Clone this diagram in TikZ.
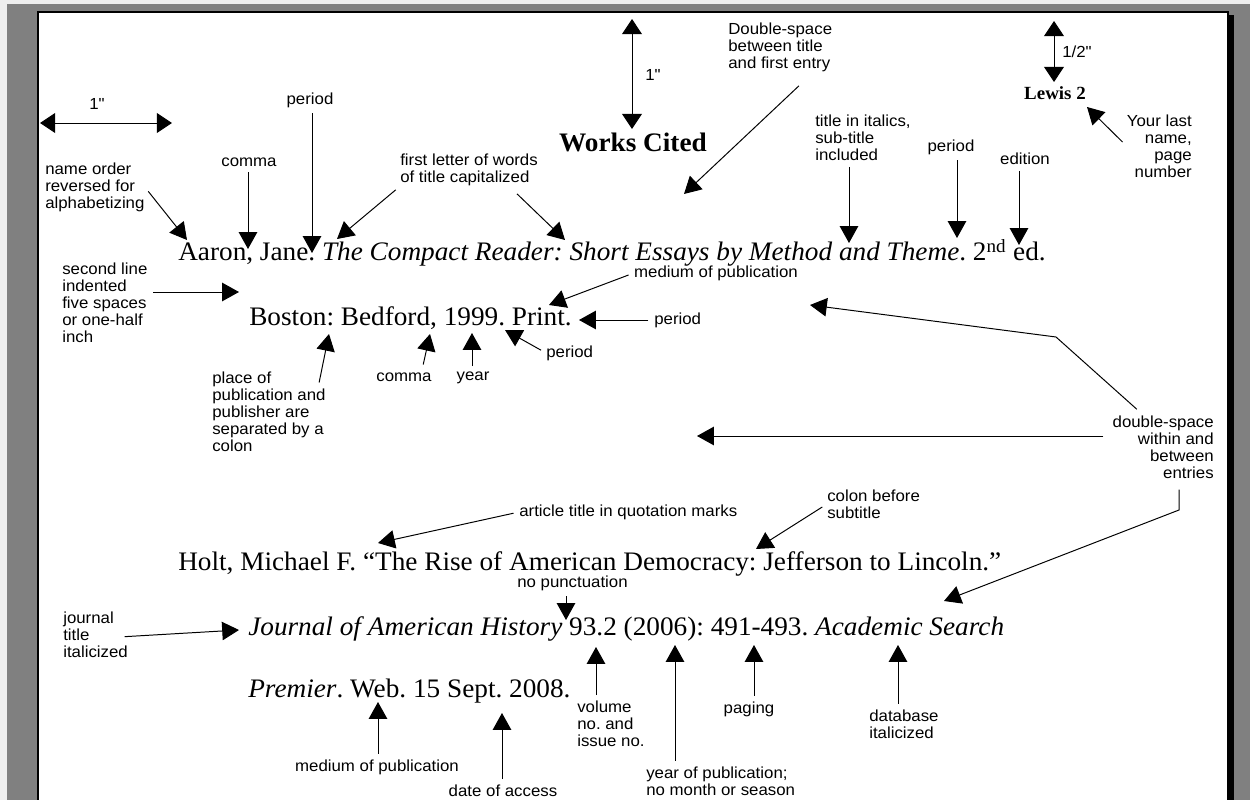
\documentclass[tikz,border=0pt]{standalone}
\usepackage{fontspec}
\setmainfont{Liberation Serif}[FakeStretch=1.02]
\newfontfamily\notefont{Liberation Sans}[Ligatures=TeXOff, FakeStretch=1.05]
\usetikzlibrary{arrows.meta}

\definecolor{panel}{HTML}{808080}
\definecolor{rim}{HTML}{EEEEEE}
\frenchspacing

\begin{document}
\begin{tikzpicture}[x=0.025cm, y=-0.025cm,
        note/.style={font=\notefont\fontsize{11.4}{12.1}\selectfont, inner sep=0pt},
        cite/.style={font=\fontsize{19}{22}\selectfont, anchor=base west, inner sep=0pt},
        pointer/.style={line width=0.7pt, shorten <=4pt, -{Triangle[length=0.42cm, width=0.46cm]}},
        both/.style={line width=0.7pt, {Triangle[length=0.38cm, width=0.5cm]}-{Triangle[length=0.38cm, width=0.5cm]}}]

        % Page:
        \useasboundingbox (0,0) rectangle (1250,800);
        \clip (0,0) rectangle (1250,800);
        \fill[rim] (0,0) rectangle (1250,800);
        \fill[panel] (7,4) rectangle (1250,800);
        \fill[black] (1228,15) rectangle (1234,800);
        \draw[line width=1.2pt, fill=white] (38,12) rectangle (1228,810);

        % Heading:
        \node[font=\bfseries\fontsize{19}{24}\selectfont, inner sep=0pt] (wc) at (633,142) {Works Cited};
        \node[font=\bfseries\fontsize{13.2}{16}\selectfont, inner sep=0pt] (lewis) at (1055,93) {Lewis 2};

        % Margins:
        \coordinate (mL) at (40,123);
        \coordinate (mR) at (172,123);
        \draw[both] (mL) -- (mR);
        \node[note] (inch1) at (97,104) {1"};
        \coordinate (tTop) at (632,19);
        \coordinate (tBot) at (632,129);
        \draw[both] (tTop) -- (tBot);
        \node[note, anchor=west] (inch2) at (645,75) {1"};
        \coordinate (hTop) at (1054,21);
        \coordinate (hBot) at (1054,82);
        \draw[both] (hTop) -- (hBot);
        \node[note, anchor=west] (half) at (1062,52) {1/2"};

        % Citations:
        \node[cite] (aaron) at (178,261) {Aaron, Jane. \textit{The Compact Reader: Short Essays by Method and Theme}. 2\textsuperscript{nd} ed.};
        \node[cite] (boston) at (249,325) {Boston: Bedford, 1999. Print.};
        \node[cite] (holt) at (178,570) {Holt, Michael F. “The Rise of American Democracy: Jefferson to Lincoln.”};
        \node[cite] (journal) at (248,635) {\textit{Journal of American History} 93.2 (2006): 491-493. \textit{Academic Search}};
        \node[cite] (premier) at (248,697) {\textit{Premier}. Web. 15 Sept. 2008.};

        % Labels, first entry:
        \node[note, anchor=west, align=left] (dbl) at (728,47) {Double-space\\between title\\and first entry};
        \node[note, anchor=east, align=right] (last) at (1192,146) {Your last\\name,\\page\\number};
        \node[note, anchor=west, align=left] (ital) at (815,138) {title in italics,\\sub-title\\included};
        \node[note] (pd2) at (951,147) {period};
        \node[note] (ed) at (1025,159) {edition};
        \node[note, anchor=west, align=left] (rev) at (45,187) {name order\\reversed for\\alphabetizing};
        \node[note] (comma1) at (249,162) {comma};
        \node[note] (pd1) at (310,100) {period};
        \node[note, anchor=west, align=left] (caps) at (400,170) {first letter of words\\of title capitalized};
        \node[note] (med1) at (716,273) {medium of publication};
        \node[note, anchor=west, align=left] (indent) at (62,303) {second line\\indented\\five spaces\\or one-half\\inch};
        \node[note, anchor=west] (pd3) at (654,320) {period};
        \node[note, anchor=west, align=left] (place) at (212,412) {place of\\publication and\\publisher are\\separated by a\\colon};
        \node[note] (comma2) at (404,377) {comma};
        \node[note] (year) at (473,378) {year};
        \node[note, anchor=west] (pd4) at (546,353) {period};
        \node[note, anchor=east, align=right] (dsp) at (1214,447) {double-space\\within and\\between\\entries};

        % Labels, second entry:
        \node[note, anchor=west] (art) at (519,512) {article title in quotation marks};
        \node[note, anchor=west, align=left] (colon) at (827,504) {colon before\\subtitle};
        \node[note, anchor=west] (nop) at (517,583) {no punctuation};
        \node[note, anchor=west, align=left] (jrn) at (63,635) {journal\\title\\italicized};
        \node[note, anchor=west, align=left] (vol) at (577,724) {volume\\no. and\\issue no.};
        \node[note, anchor=west, align=left] (yop) at (646,781) {year of publication;\\no month or season};
        \node[note] (pag) at (749,709) {paging};
        \node[note, anchor=west, align=left] (db) at (869,724) {database\\italicized};
        \node[note] (med2) at (377,767) {medium of publication};
        \node[note] (doa) at (503,791) {date of access};

        % Arrow tips:
        \coordinate (dblTip) at (684,194);
        \coordinate (lastTip) at (1087,107);
        \coordinate (italTip) at (849,243);
        \coordinate (pd2Tip) at (957,238);
        \coordinate (edTip) at (1019,245);
        \coordinate (revTip) at (187,240);
        \coordinate (comma1Tip) at (248,249);
        \coordinate (pd1Tip) at (312,253);
        \coordinate (capsTipA) at (337,239);
        \coordinate (capsTipB) at (565,240);
        \coordinate (med1Tip) at (549,305);
        \coordinate (indentTip) at (239,292);
        \coordinate (pd3Tip) at (579,320);
        \coordinate (placeTip) at (329,334);
        \coordinate (comma2Tip) at (430,334);
        \coordinate (yearTip) at (472,333);
        \coordinate (pd4Tip) at (505,330);
        \coordinate (dspTipA) at (810,305);
        \coordinate (dspTipB) at (697,436);
        \coordinate (dspTipC) at (944,601);
        \coordinate (artTip) at (378,543);
        \coordinate (colonTip) at (756,549);
        \coordinate (nopTip) at (566,620);
        \coordinate (jrnTip) at (239,630);
        \coordinate (volTip) at (596,647);
        \coordinate (yopTip) at (675,645);
        \coordinate (pagTip) at (754,645);
        \coordinate (dbTip) at (898,645);
        \coordinate (med2Tip) at (378,702);
        \coordinate (doaTip) at (502,713);

        % Free starts:
        \coordinate (dblFrom) at (803,82);
        \coordinate (capsFromB) at (513,190);
        \coordinate (placeFrom) at (318,388);
        \coordinate (comma2From) at (422,370);
        \coordinate (jrnFrom) at (119,637);
        \coordinate (dspFromA) at (1141,413);
        \coordinate (dspBend) at (1056,337);
        \coordinate (dspFromB) at (1109,436);
        \coordinate (dspFromC) at (1179,484);
        \coordinate (dspBendC) at (1179,510);

        % Pointers:
        \draw[pointer] (dblFrom) -- (dblTip);
        \draw[pointer] (last.west) -- (lastTip);
        \draw[pointer] (ital.south -| italTip) -- (italTip);
        \draw[pointer] (pd2.south -| pd2Tip) -- (pd2Tip);
        \draw[pointer] (ed.south -| edTip) -- (edTip);
        \draw[pointer] (rev.east) -- (revTip);
        \draw[pointer] (comma1.south -| comma1Tip) -- (comma1Tip);
        \draw[pointer] (pd1.south -| pd1Tip) -- (pd1Tip);
        \draw[pointer] (caps.south west) -- (capsTipA);
        \draw[pointer] (capsFromB) -- (capsTipB);
        \draw[pointer] (med1.west) -- (med1Tip);
        \draw[pointer] (indent.east |- indentTip) -- (indentTip);
        \draw[pointer] (pd3.west) -- (pd3Tip);
        \draw[pointer] (placeFrom) -- (placeTip);
        \draw[pointer] (comma2From) -- (comma2Tip);
        \draw[pointer] (year.north -| yearTip) -- (yearTip);
        \draw[pointer] (pd4.west) -- (pd4Tip);
        \draw[pointer] (dspFromA) -- (dspBend) -- (dspTipA);
        \draw[pointer] (dspFromB) -- (dspTipB);
        \draw[pointer] (dspFromC) -- (dspBendC) -- (dspTipC);
        \draw[pointer] (art.west) -- (artTip);
        \draw[pointer] (colon.west) -- (colonTip);
        \draw[pointer] (nop.south -| nopTip) -- (nopTip);
        \draw[pointer] (jrnFrom) -- (jrnTip);
        \draw[pointer] (vol.north -| volTip) -- (volTip);
        \draw[pointer] (yop.north -| yopTip) -- (yopTip);
        \draw[pointer] (pag.north -| pagTip) -- (pagTip);
        \draw[pointer] (db.north -| dbTip) -- (dbTip);
        \draw[pointer] (med2.north -| med2Tip) -- (med2Tip);
        \draw[pointer] (doa.north -| doaTip) -- (doaTip);
\end{tikzpicture}
\end{document}
